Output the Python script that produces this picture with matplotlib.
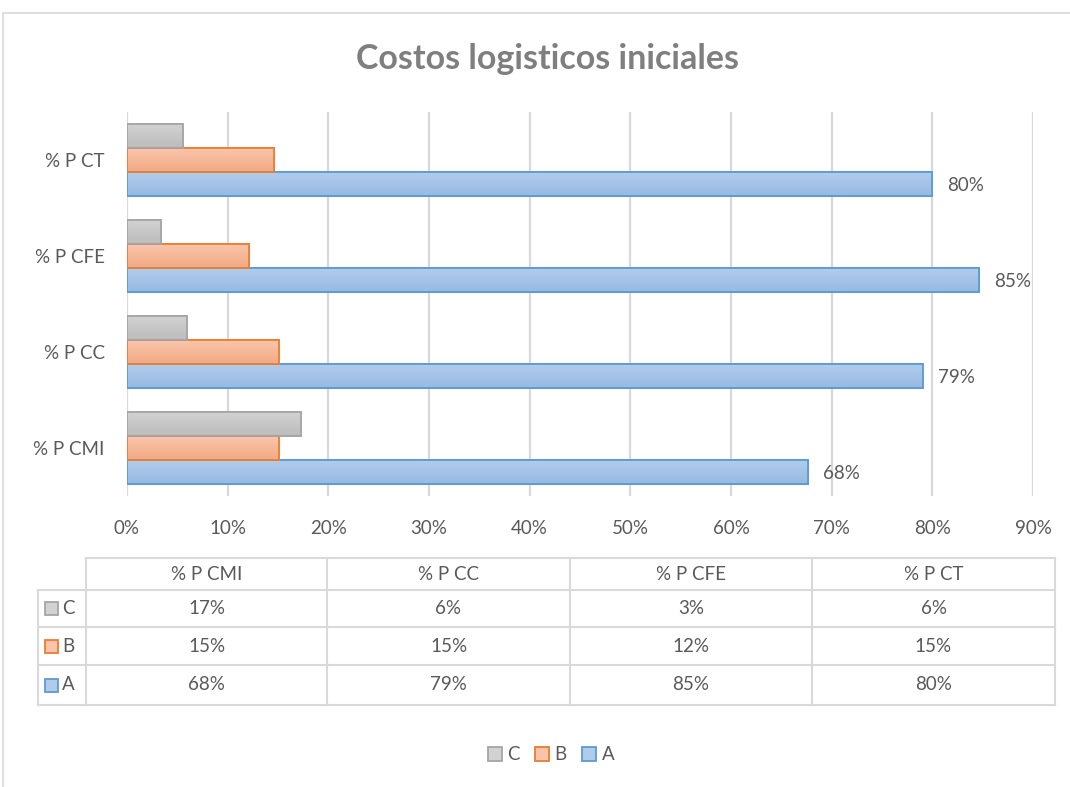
import matplotlib
matplotlib.use("Agg")
import matplotlib.pyplot as plt
import numpy as np
from matplotlib.colors import LinearSegmentedColormap
from matplotlib.patches import Rectangle, Patch

categories = ["% P CMI", "% P CC", "% P CFE", "% P CT"]
series_names = ["C", "B", "A"]
values_A = [67.6, 79.1, 84.6, 80.0]
values_B = [15.1, 15.1, 12.1, 14.6]
values_C = [17.3, 6.0, 3.4, 5.6]
xticks = [0, 10, 20, 30, 40, 50, 60, 70, 80, 90]

TXT = "#595959"
FONT = "Lato"
FS = 13.5
plt.rcParams["font.family"] = [FONT, "DejaVu Sans"]

W, H = 1070, 787
fig = plt.figure(figsize=(W / 100, H / 100), dpi=100)

def fx(x):
    return x / W

def fy(y):
    return 1 - y / H

# outer border
fig.patches.append(Rectangle((fx(3), fy(790)), fx(1072) - fx(3), fy(13) - fy(790),
                             transform=fig.transFigure, fill=False, edgecolor="#D9D9D9", lw=1.2))

ax = fig.add_axes([fx(127), fy(496), fx(1033) - fx(127), fy(112) - fy(496)])

h = 0.25
y = np.arange(len(categories))
styles = {
    "A": (values_A, -h, "#5B9BD5", ("#B1CCEB", "#97B9E3")),
    "B": (values_B, 0.0, "#ED7D31", ("#F9C5AA", "#F3A985")),
    "C": (values_C, h, "#A5A5A5", ("#D2D2D2", "#BCBCBC")),
}
for name in ["A", "B", "C"]:
    vals, off, edge, grad = styles[name]
    bars = ax.barh(y + off, vals, height=h, color=grad[1], edgecolor=edge, linewidth=1.2, zorder=3)
    cmap = LinearSegmentedColormap.from_list("g" + name, [grad[0], grad[1]])
    for b in bars:
        x0, y0 = b.get_x(), b.get_y()
        w, hh = b.get_width(), b.get_height()
        im = ax.imshow(np.linspace(0, 1, 64).reshape(-1, 1), cmap=cmap, aspect="auto",
                       extent=(x0, x0 + w, y0, y0 + hh), origin="upper", zorder=3.5,
                       interpolation="bilinear")
        im.set_clip_path(b)
        ax.add_patch(Rectangle((x0, y0), w, hh, fill=False, edgecolor=edge, linewidth=1.3, zorder=4))
    if name == "A":
        for b, v in zip(bars, vals):
            ax.text(v + 1.5, b.get_y() + b.get_height() / 2 - 0.02, f"{round(v):.0f}%",
                    va="center", ha="left", color=TXT, fontsize=FS, zorder=5)

ax.set_xlim(0, 90)
ax.set_ylim(-0.5, 3.5)
ax.set_xticks(xticks)
ax.set_xticklabels([f"{t}%" for t in xticks], color=TXT, fontsize=FS)
ax.set_yticks(y)
ax.set_yticklabels(categories, color=TXT, fontsize=FS)
ax.tick_params(axis="both", length=0)
ax.tick_params(axis="x", pad=17)
ax.tick_params(axis="y", pad=16)
ax.grid(axis="x", color="#D9D9D9", lw=1.6, zorder=0)
for s in ax.spines.values():
    s.set_visible(False)
ax.set_facecolor("none")

fig.text(fx(547), fy(59), "Costos logisticos iniciales", ha="center", va="center",
         fontsize=24.5, fontweight="bold", color="#7F7F7F")

# data table
tax = fig.add_axes([0, 0, 1, 1])
tax.set_xlim(0, W)
tax.set_ylim(H, 0)
tax.axis("off")
col_x = [38, 86, 327, 570, 812, 1055]
row_y = [558, 590, 627, 665, 705]
lc = "#D9D9D9"
lw = 1.5
tax.plot([col_x[1], col_x[-1]], [row_y[0]] * 2, color=lc, lw=lw)
for ry in row_y[1:]:
    tax.plot([col_x[0], col_x[-1]], [ry] * 2, color=lc, lw=lw)
tax.plot([col_x[0]] * 2, [row_y[1], row_y[-1]], color=lc, lw=lw)
for cx in col_x[1:]:
    tax.plot([cx] * 2, [row_y[0], row_y[-1]], color=lc, lw=lw)

for i, cat in enumerate(categories):
    tax.text((col_x[i + 1] + col_x[i + 2]) / 2, (row_y[0] + row_y[1]) / 2, cat,
             ha="center", va="center", color=TXT, fontsize=FS)

table_rows = {"C": values_C, "B": values_B, "A": values_A}
for r, name in enumerate(series_names):
    vals, off, edge, grad = styles[name]
    yc = (row_y[r + 1] + row_y[r + 2]) / 2
    tax.add_patch(Rectangle((45, yc - 6.5), 13, 13, facecolor=grad[0], edgecolor=edge, lw=1.3))
    tax.text(62, yc, name, ha="left", va="center", color=TXT, fontsize=FS)
    for i, v in enumerate(table_rows[name]):
        tax.text((col_x[i + 1] + col_x[i + 2]) / 2, yc, f"{round(v):.0f}%",
                 ha="center", va="center", color=TXT, fontsize=FS)

# bottom legend
leg_handles = [Patch(facecolor=styles[n][3][0], edgecolor=styles[n][2], lw=1.3) for n in series_names]
fig.legend(leg_handles, series_names, loc="center", bbox_to_anchor=(fx(551), fy(755)),
           ncol=3, frameon=False, fontsize=FS, handlelength=0.75, handleheight=0.75,
           handletextpad=0.3, columnspacing=0.8, labelcolor=TXT)

fig.savefig("out.png", dpi=100)
